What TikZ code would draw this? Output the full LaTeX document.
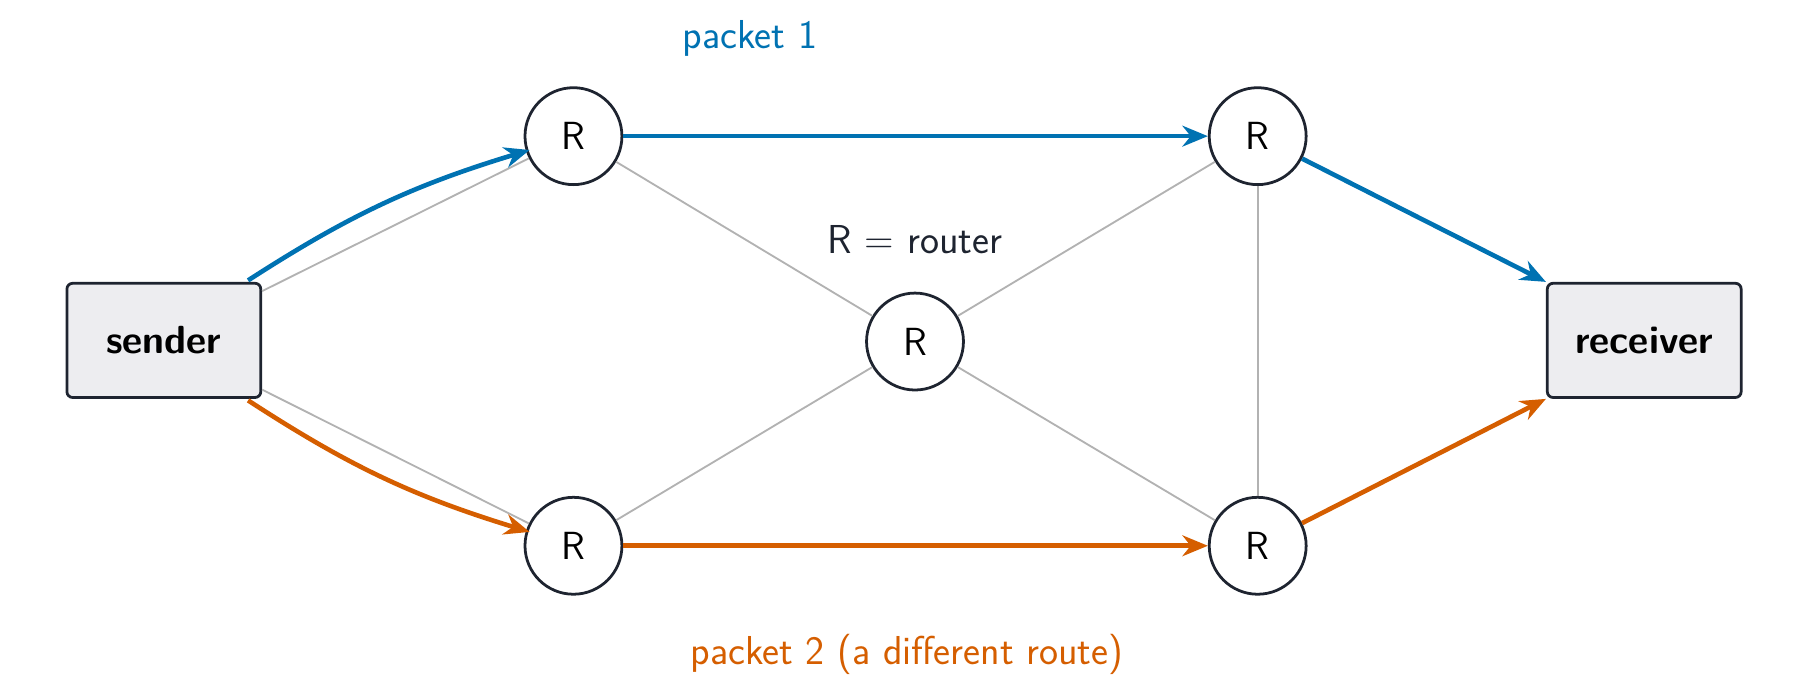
\documentclass[tikz,border=0pt]{standalone}
\usetikzlibrary{arrows.meta}
\definecolor{pblue}{RGB}{0,114,178}
\definecolor{porange}{RGB}{213,94,0}
\definecolor{dk}{RGB}{30,36,48}
\definecolor{boxfill}{RGB}{237,237,240}
\tikzset{
  rt/.style={circle,draw=dk,line width=1.2pt,fill=white,minimum size=42pt,inner sep=0pt,font=\sffamily\fontsize{17}{20}\selectfont},
  endbox/.style={draw=dk,line width=1.2pt,fill=boxfill,rounded corners=2.5pt,minimum width=84pt,minimum height=49.5pt,font=\sffamily\bfseries\fontsize{17}{20}\selectfont},
  link/.style={draw=gray!60,line width=0.8pt},
  path1/.style={draw=pblue,line width=2pt,-{Stealth[length=11pt,width=9pt]}},
  path2/.style={draw=porange,line width=2pt,-{Stealth[length=11pt,width=9pt]}},
  lbl/.style={font=\sffamily\fontsize{17.5}{20}\selectfont}
}
\begin{document}
\begin{tikzpicture}[x=0.5pt,y=-0.5pt]
\useasboundingbox (0,0) rectangle (1560,600);
\node[endbox] (s) at (142,295) {sender};
\node[endbox] (r) at (1425,295) {receiver};
\node[rt] (tl) at (497,118) {R};
\node[rt] (tr) at (1090,118) {R};
\node[rt] (c) at (793,296) {R};
\node[rt] (bl) at (497,473) {R};
\node[rt] (br) at (1090,473) {R};
\coordinate (s1) at (215,243);
\coordinate (s2) at (215,347);
\coordinate (t1) at (459,130);
\coordinate (t2) at (459,461);
\draw[link] (s.north east)+(0,8) -- (tl);
\draw[link] (s.south east)+(0,-8) -- (bl);
\draw[link] (tl) -- (c);
\draw[link] (c) -- (tr);
\draw[link] (bl) -- (c);
\draw[link] (c) -- (br);
\draw[link] (tr) -- (br);
\draw[path1] (s1) to[bend left=8] (t1);
\draw[path1] (tl) -- (tr);
\draw[path1] (tr) -- (r.north west);
\draw[path2] (s2) to[bend right=8] (t2);
\draw[path2] (bl) -- (br);
\draw[path2] (br) -- (r.south west);
\node[lbl,text=pblue] (p1) at (650,33) {packet 1};
\node[lbl,text=dk] (leg) at (793,208) {R = router};
\node[lbl,text=porange] (p2) at (786,567) {packet 2 (a different route)};
\end{tikzpicture}
\end{document}
